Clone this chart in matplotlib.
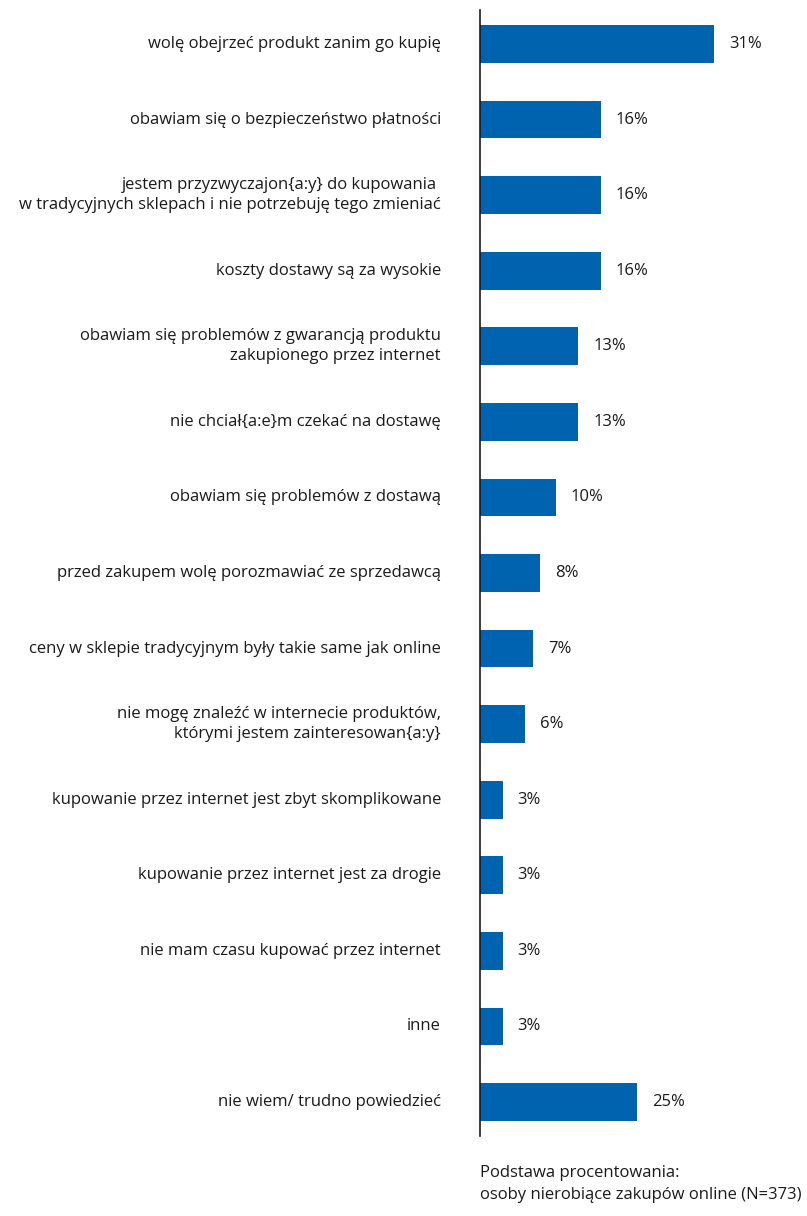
import numpy as np
import matplotlib.pyplot as plt

plt.rcParams['font.family'] = ['Open Sans', 'DejaVu Sans']

categories = [
    "wolę obejrzeć produkt zanim go kupię",
    "obawiam się o bezpieczeństwo płatności",
    "jestem przyzwyczajon{a:y} do kupowania \nw tradycyjnych sklepach i nie potrzebuję tego zmieniać",
    "koszty dostawy są za wysokie",
    "obawiam się problemów z gwarancją produktu\nzakupionego przez internet",
    "nie chciał{a:e}m czekać na dostawę",
    "obawiam się problemów z dostawą",
    "przed zakupem wolę porozmawiać ze sprzedawcą",
    "ceny w sklepie tradycyjnym były takie same jak online",
    "nie mogę znaleźć w internecie produktów,\nktórymi jestem zainteresowan{a:y}",
    "kupowanie przez internet jest zbyt skomplikowane",
    "kupowanie przez internet jest za drogie",
    "nie mam czasu kupować przez internet",
    "inne",
    "nie wiem/ trudno powiedzieć",
]
# bar lengths as drawn in the picture
values = [31, 16, 16, 16, 13, 13, 10, 8, 7, 6, 3, 3, 3, 3, 20.8]
value_labels = ["31%", "16%", "16%", "16%", "13%", "13%", "10%", "8%", "7%",
                "6%", "3%", "3%", "3%", "3%", "25%"]
note = "Podstawa procentowania:\nosoby nierobiące zakupów online (N=373)"

W, H = 807, 1216
fig = plt.figure(figsize=(W / 100, H / 100), dpi=100)
ax = fig.add_axes([480 / W, 1 - 1136 / H, 1 - 480 / W, (1136 - 10) / H])

blue = '#0063af'
txt = '#1a1a1a'
fs = 12
y = np.arange(len(categories))
ax.barh(y, values, height=0.5, color=blue)
ax.set_ylim(len(categories) - 0.55, -0.45)
ax.set_xlim(0, (W - 480) / 7.55)

for yi, v, lab in zip(y, values, value_labels):
    ax.annotate(lab, (v, yi), xytext=(15 * 0.72, 0), textcoords='offset points',
                va='center', ha='left', fontsize=fs, color=txt)

for yi, cat in zip(y, categories):
    ax.annotate(cat, (0, yi), xytext=(-39 * 0.72, 0), textcoords='offset points',
                va='center', ha='right', fontsize=fs, color=txt,
                multialignment='right', linespacing=1.3)

for pos in ['right', 'top', 'bottom']:
    ax.spines[pos].set_visible(False)
ax.spines['left'].set_color('#1a1a1a')
ax.spines['left'].set_linewidth(1.2)
ax.set_xticks([])
ax.set_yticks([])

fig.text(480 / W, 1 - 1165 / H, note, ha='left', va='top', fontsize=fs,
         color=txt, linespacing=1.5)

fig.savefig('out.png', dpi=100)
